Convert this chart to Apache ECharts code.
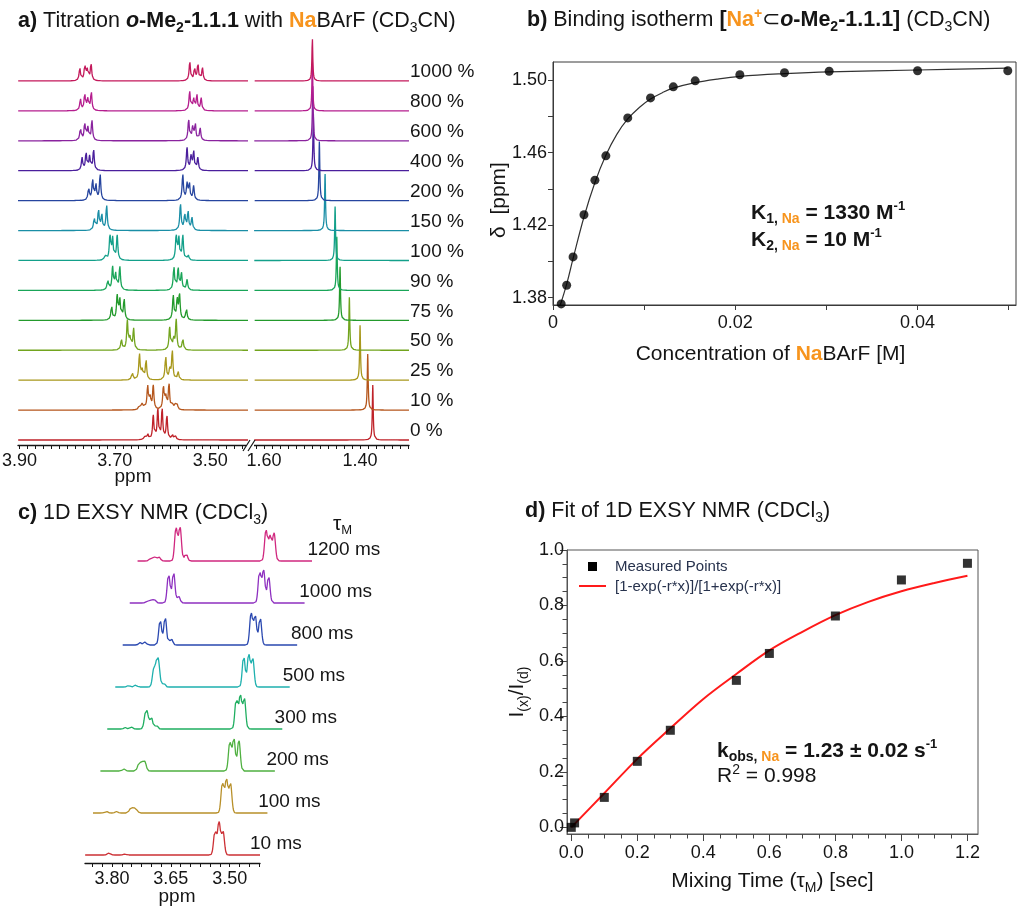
<!DOCTYPE html>
<html>
<head>
<meta charset="utf-8">
<title>NaBArF titration and 1D EXSY</title>
<script src="https://cdn.jsdelivr.net/npm/echarts@6.0.0/dist/echarts.min.js"></script>
<style>
html,body{margin:0;padding:0;background:#ffffff;}
#chart{width:1024px;height:912px;}
</style>
</head>
<body>
<div id="chart"></div>
<script>
// ================= DATA =================
// ---- Panel a: titration spectra (index 0 = 0 %, bottom trace) ----
const titrationLabels = ['0 %','10 %','25 %','50 %','75 %','90 %','100 %','150 %','200 %','400 %','600 %','800 %','1000 %'];
// OCH2 region peaks: [ppm, intensity]
const ochPeaks = [
  [[3.6381,3.3],[3.6313,6],[3.6196,24],[3.6100,30],[3.6010,31],[3.5910,24],[3.5797,6],[3.5727,3.3]],
  [[3.6485,5],[3.6437,6],[3.6381,5],[3.6313,23],[3.6264,13],[3.6196,24],[3.5983,23],[3.5934,13],[3.5866,26],[3.5797,5],[3.5742,6],[3.5694,5]],
  [[3.6636,8.3],[3.6485,26],[3.6430,10],[3.6347,20.7],[3.5935,24],[3.5850,10],[3.5797,29],[3.5674,8.3]],
  [[3.6863,10.7],[3.6739,29],[3.6685,12],[3.6608,21.7],[3.5852,22.7],[3.5770,12],[3.5715,30],[3.5577,11.7]],
  [[3.7069,14.7],[3.6952,24],[3.6897,20.7],[3.6807,22],[3.5777,24.7],[3.5694,20],[3.5646,25.7],[3.5502,12.3]],
  [[3.7150,10.7],[3.7048,23],[3.6986,17],[3.6897,24],[3.5763,24],[3.5674,22],[3.5605,17],[3.5488,10.7]],
  [[3.7206,6],[3.7103,25],[3.7048,22],[3.6952,25],[3.5715,25],[3.5660,22],[3.5577,25],[3.5467,6]],
  [[3.7433,12.7],[3.7344,21],[3.7275,16],[3.7173,25],[3.5626,26.7],[3.5536,16],[3.5467,19.3],[3.5385,12.7]],
  [[3.7550,12.7],[3.7467,21],[3.7398,16],[3.7309,26],[3.5577,26],[3.5488,16],[3.5440,17.7],[3.5350,14.3]],
  [[3.7688,12.7],[3.7604,18.3],[3.7530,14],[3.7446,21],[3.5488,22.7],[3.5405,14],[3.5350,19.3],[3.5262,12.7]],
  [[3.7722,12.7],[3.7632,17.7],[3.7566,13],[3.7481,20.3],[3.5454,21],[3.5371,13],[3.5316,17.7],[3.5213,12.7]],
  [[3.7722,11.7],[3.7632,16.7],[3.7570,12],[3.7495,19.3],[3.5433,19.3],[3.5350,12],[3.5282,16],[3.5192,12.7]],
  [[3.7735,13],[3.7630,16],[3.7580,11],[3.7500,18],[3.5430,19],[3.5330,13],[3.5260,17],[3.5165,13]]
];
// methyl singlet: [ppm, intensity]
const methylPeaks = [[1.3735,55],[1.3840,56],[1.4000,55],[1.4223,53],[1.4417,54],[1.4485,54],[1.4520,54],
                     [1.4729,57],[1.4848,59],[1.4973,57],[1.4985,55],[1.4994,50],[1.4994,43]];
const aLeftTickLabels = ['3.90','3.70','3.50'];
const aRightTickLabels = ['1.60','1.40'];

// ---- Panel b: binding isotherm ----
const naConc  = [0.0009,0.0015,0.0022,0.0034,0.0046,0.0058,0.0082,0.0107,0.0132,0.0156,0.0205,0.0254,0.0303,0.0400,0.0499];
const naShift = [1.3766,1.3869,1.4025,1.4257,1.4448,1.4582,1.4791,1.4901,1.4962,1.4995,1.5029,1.5040,1.5048,1.5051,1.5051];
const fitConc  = [0.0008,0.0015,0.0022,0.0034,0.0046,0.0058,0.0070,0.0082,0.0095,0.0107,0.0120,0.0132,0.0156,0.0180,0.0205,0.0254,0.0303,0.0400,0.0499];
const fitShift = [1.3760,1.3875,1.4015,1.4245,1.4435,1.4585,1.4700,1.4785,1.4850,1.4895,1.4930,1.4955,1.4985,1.5005,1.5020,1.5035,1.5045,1.5055,1.5065];
const bXTickLabels = ['0','0.02','0.04'];
const bYTickLabels = ['1.38','1.42','1.46','1.50'];

// ---- Panel c: 1D EXSY spectra (index 0 = 10 ms, bottom trace) ----
const exsyLabels = ['10 ms','100 ms','200 ms','300 ms','500 ms','800 ms','1000 ms','1200 ms'];
const exsyPeaks = [
  [[3.8078,2],[3.7670,1],[3.5374,24],[3.5272,33],[3.5170,24]],
  [[3.8333,1.5],[3.8078,1.5],[3.7720,4],[3.7644,5],[3.7568,3],[3.5374,30],[3.5272,34],[3.5170,30]],
  [[3.8078,2],[3.7695,7],[3.7619,8],[3.7542,9],[3.5374,29],[3.5272,33],[3.5144,31]],
  [[3.8231,1.5],[3.8078,2],[3.7720,12],[3.7670,13],[3.7568,12],[3.7440,4],[3.5400,30],[3.5297,34],[3.5195,31]],
  [[3.8333,1.5],[3.8154,2],[3.7695,17],[3.7619,20],[3.7568,19],[3.7440,4],[3.5400,31],[3.5272,33],[3.5170,29]],
  [[3.8231,2.5],[3.8103,3],[3.7720,25],[3.7593,28],[3.7440,7],[3.5400,32],[3.5297,30],[3.5170,28]],
  [[3.8231,2],[3.8129,3],[3.8052,3],[3.7695,29],[3.7568,31],[3.7440,7],[3.5374,32],[3.5272,33],[3.5144,27]],
  [[3.8333,3],[3.8231,4],[3.8129,4],[3.7695,33],[3.7593,34],[3.7440,8],[3.5400,31],[3.5297,25],[3.5195,28]]
];
const cTickLabels = ['3.80','3.65','3.50'];

// ---- Panel d: EXSY fit ----
const mixTime  = [0, 0.01, 0.1, 0.2, 0.3, 0.5, 0.6, 0.8, 1.0, 1.2];
const intRatio = [0.000, 0.016, 0.108, 0.238, 0.350, 0.530, 0.627, 0.762, 0.892, 0.952];
const fitTime  = [0, 0.1, 0.2, 0.3, 0.4, 0.5, 0.6, 0.7, 0.8, 0.9, 1.0, 1.1, 1.2];
const fitRatio = [0, 0.123, 0.247, 0.357, 0.463, 0.553, 0.638, 0.705, 0.765, 0.813, 0.851, 0.881, 0.907];
const dXTickLabels = ['0.0','0.2','0.4','0.6','0.8','1.0','1.2'];
const dYTickLabels = ['0.0','0.2','0.4','0.6','0.8','1.0'];

// ================= STYLE =================
const FONT = '"Liberation Sans", Arial, Helvetica, sans-serif';
const INK = '#151515';
const NA = '#f7941d';
const titrationColors = ['#bf2229','#b5561c','#a8981c','#72a41e','#239a2c','#19a558','#13a08a','#1a8ea6','#26459f','#4a1f9c','#8a239e','#b51e8e','#c3195b'];
const exsyColors = ['#cc3035','#b8902a','#4fb040','#1fae60','#1eb0ae','#2a48b0','#8e30c0','#d0287f'];

// ================= HELPERS =================
function lineShape(peaks, lo, hi, step, kind, w) {
  const xs = [];
  const n = Math.round((hi - lo) / step);
  for (let k = 0; k <= n; k++) xs.push(lo + k * step);
  peaks.forEach(p => xs.push(p[0]));
  xs.sort((a, b) => a - b);
  return xs.map(x => {
    let y = 0;
    for (const p of peaks) {
      const d = (x - p[0]) / w;
      y += kind === 'gauss' ? p[1] * Math.exp(-0.5 * d * d) : p[1] / (1 + d * d);
    }
    return [x, y];
  });
}
function labelFrom(list) {
  return v => { const s = list.find(t => Math.abs(Number(t) - v) < 1e-7); return s === undefined ? '' : s; };
}
function stepValues(from, to, step) {
  const out = [];
  const n = Math.floor((to - from) / step + 1e-6);
  for (let k = 0; k <= n; k++) out.push(+(from + k * step).toFixed(5));
  return out;
}

const TS = 21.5, SS = 14;
const RICH = {
  n:  {fontSize: TS, fontFamily: FONT, color: INK, lineHeight: 27},
  b:  {fontSize: TS, fontFamily: FONT, color: INK, fontWeight: 'bold', lineHeight: 27},
  bi: {fontSize: TS, fontFamily: FONT, color: INK, fontWeight: 'bold', fontStyle: 'italic', lineHeight: 27},
  ob: {fontSize: TS, fontFamily: FONT, color: NA, fontWeight: 'bold', lineHeight: 27},
  op: {fontSize: SS, fontFamily: FONT, color: NA, fontWeight: 'bold', verticalAlign: 'top', lineHeight: 16},
  bs: {fontSize: SS, fontFamily: FONT, color: INK, fontWeight: 'bold', verticalAlign: 'bottom', lineHeight: 16},
  ns: {fontSize: SS, fontFamily: FONT, color: INK, verticalAlign: 'bottom', lineHeight: 16},
  os: {fontSize: SS, fontFamily: FONT, color: NA, fontWeight: 'bold', verticalAlign: 'bottom', lineHeight: 16},
  bp: {fontSize: 13, fontFamily: FONT, color: INK, fontWeight: 'bold', verticalAlign: 'top', lineHeight: 16},
  np: {fontSize: SS, fontFamily: FONT, color: INK, verticalAlign: 'top', lineHeight: 16}
};
const RICH_ANN = {
  n:  {fontSize: 21, fontFamily: FONT, color: INK, lineHeight: 26},
  b:  {fontSize: 21, fontFamily: FONT, color: INK, fontWeight: 'bold', lineHeight: 26},
  bs: {fontSize: 14, fontFamily: FONT, color: INK, fontWeight: 'bold', verticalAlign: 'bottom', lineHeight: 15},
  os: {fontSize: 14, fontFamily: FONT, color: NA, fontWeight: 'bold', verticalAlign: 'bottom', lineHeight: 15},
  bp: {fontSize: 13, fontFamily: FONT, color: INK, fontWeight: 'bold', verticalAlign: 'top', lineHeight: 15},
  np: {fontSize: 14, fontFamily: FONT, color: INK, verticalAlign: 'top', lineHeight: 15},
  ns: {fontSize: 13, fontFamily: FONT, color: INK, verticalAlign: 'bottom', lineHeight: 15}
};

const grids = [], xAxes = [], yAxes = [], series = [], graphics = [], titles = [];

function addSpectrum(opt) {
  const g = grids.length;
  grids.push({left: opt.left, top: opt.baseline + opt.below - opt.h, width: opt.width, height: opt.h,
              containLabel: false, outerBoundsMode: 'none'});
  const xa = {
    type: 'value', gridIndex: g, inverse: true, min: opt.range[0], max: opt.range[1], show: !!opt.axis,
    axisLine: {show: true, onZero: false, lineStyle: {color: INK, width: 1.3}},
    axisTick: {show: true, length: 4, lineStyle: {color: INK, width: 1}},
    axisLabel: {show: true, margin: 7, fontSize: 18, color: INK, fontFamily: FONT, hideOverlap: false},
    splitLine: {show: false}
  };
  if (opt.axis) {
    xa.axisTick.customValues = opt.axis.ticks;
    xa.axisLabel.customValues = opt.axis.labels.map(Number);
    xa.axisLabel.formatter = labelFrom(opt.axis.labels);
  }
  xAxes.push(xa);
  yAxes.push({type: 'value', gridIndex: g, min: -opt.below, max: opt.h - opt.below, show: false, splitLine: {show: false}});
  series.push({
    type: 'line', xAxisIndex: g, yAxisIndex: g, data: opt.data, showSymbol: false, symbol: 'none',
    lineStyle: {color: opt.color, width: 1.3}, itemStyle: {color: opt.color}, silent: true, clip: true, z: 3
  });
}

// ================= PANEL a =================
const A_LEFT = [3.421, 3.903], A_RIGHT = [1.298, 1.621];
const aTicksLeft = [], aTicksRight = [];
for (let k = 0; 3.90 - k / 60 >= A_LEFT[0]; k++) aTicksLeft.push(+(3.90 - k / 60).toFixed(5));
for (let k = -1; 1.60 - k / 60 >= A_RIGHT[0]; k++) { const v = +(1.60 - k / 60).toFixed(5); if (v <= A_RIGHT[1]) aTicksRight.push(v); }

titrationLabels.forEach((lab, i) => {
  const baseline = 440 - 29.92 * i;
  const bottom = i === 0;
  addSpectrum({left: 18, width: 230, baseline, below: 5, h: 70, range: A_LEFT, color: titrationColors[i],
    axis: bottom ? {ticks: aTicksLeft, labels: aLeftTickLabels} : null,
    data: lineShape(ochPeaks[i], A_LEFT[0], A_LEFT[1], 0.0004, 'lorentz', 0.0017)});
  addSpectrum({left: 254, width: 155, baseline, below: 5, h: 70, range: A_RIGHT, color: titrationColors[i],
    axis: bottom ? {ticks: aTicksRight, labels: aRightTickLabels} : null,
    data: lineShape([methylPeaks[i]], A_RIGHT[0], A_RIGHT[1], 0.0004, 'lorentz', 0.0011)});
  graphics.push({type: 'text', x: 410, y: baseline - 9, silent: true,
    style: {text: lab, fill: INK, fontSize: 19, fontFamily: FONT, align: 'left', verticalAlign: 'middle', textAlign: 'left', textVerticalAlign: 'middle'}});
});
// axis break marks
graphics.push({type: 'rect', shape: {x: 246, y: 443, width: 8, height: 5}, style: {fill: '#fff'}, silent: true, z: 10});
graphics.push({type: 'line', shape: {x1: 243, y1: 451, x2: 250, y2: 440}, style: {stroke: INK, lineWidth: 1.2}, silent: true, z: 11});
graphics.push({type: 'line', shape: {x1: 248, y1: 451, x2: 255, y2: 440}, style: {stroke: INK, lineWidth: 1.2}, silent: true, z: 11});
graphics.push({type: 'text', x: 133, y: 477, silent: true,
  style: {text: 'ppm', fill: INK, fontSize: 19, fontFamily: FONT, align: 'center', verticalAlign: 'middle', textAlign: 'center', textVerticalAlign: 'middle'}});

// ================= PANEL c =================
const C_RANGE = [3.4226, 3.869];
const cTicks = stepValues(3.425, 3.85, 0.025);
exsyLabels.forEach((lab, i) => {
  const baseline = 855 - 42 * i;
  addSpectrum({left: 85 + 7.43 * i, width: 175, baseline, below: 8, h: 50, range: C_RANGE, color: exsyColors[i],
    axis: i === 0 ? {ticks: cTicks, labels: cTickLabels} : null,
    data: lineShape(exsyPeaks[i], C_RANGE[0], C_RANGE[1], 0.0005, 'gauss', 0.0036)});
  graphics.push({type: 'text', x: 250 + 8.2 * i, y: baseline - 11, silent: true,
    style: {text: lab, fill: INK, fontSize: 19, fontFamily: FONT, align: 'left', verticalAlign: 'middle', textAlign: 'left', textVerticalAlign: 'middle'}});
});
graphics.push({type: 'text', x: 177, y: 897, silent: true,
  style: {text: 'ppm', fill: INK, fontSize: 19, fontFamily: FONT, align: 'center', verticalAlign: 'middle', textAlign: 'center', textVerticalAlign: 'middle'}});

// ================= PANEL b =================
const gB = grids.length;
grids.push({left: 553, top: 62, width: 463, height: 243, show: true, borderColor: '#3a3a3a', borderWidth: 1,
            backgroundColor: 'transparent', containLabel: false, outerBoundsMode: 'none'});
xAxes.push({
  type: 'value', gridIndex: gB, min: 0, max: 0.0508,
  axisLine: {show: true, onZero: false, lineStyle: {color: '#3a3a3a'}},
  axisTick: {show: true, length: 5, customValues: stepValues(0, 0.05, 0.01), lineStyle: {color: '#3a3a3a'}},
  axisLabel: {customValues: bXTickLabels.map(Number), formatter: labelFrom(bXTickLabels), fontSize: 18, margin: 9, color: INK, fontFamily: FONT},
  splitLine: {show: false},
  name: '{n|Concentration of }{ob|Na}{n|BArF [M]}', nameLocation: 'middle', nameGap: 36,
  nameTextStyle: {rich: {n: Object.assign({}, RICH.n, {fontSize: 21}), ob: Object.assign({}, RICH.ob, {fontSize: 21})}, padding: [0, 28, 0, 0]}
});
yAxes.push({
  type: 'value', gridIndex: gB, min: 1.376, max: 1.5099,
  axisLine: {show: true, onZero: false, lineStyle: {color: '#3a3a3a'}},
  axisTick: {show: true, length: 5, customValues: stepValues(1.38, 1.50, 0.02), lineStyle: {color: '#3a3a3a'}},
  axisLabel: {customValues: bYTickLabels.map(Number), formatter: labelFrom(bYTickLabels), fontSize: 18, margin: 6, color: INK, fontFamily: FONT},
  splitLine: {show: false}
});
series.push({type: 'line', name: 'fit', xAxisIndex: gB, yAxisIndex: gB, data: fitConc.map((x, k) => [x, fitShift[k]]),
  smooth: 0.4, showSymbol: false, symbol: 'none', lineStyle: {color: '#333', width: 1.2}, silent: true, z: 3});
series.push({type: 'scatter', name: 'δ obs', xAxisIndex: gB, yAxisIndex: gB, data: naConc.map((x, k) => [x, naShift[k]]),
  symbol: 'circle', symbolSize: 9, itemStyle: {color: '#000'}, silent: true, z: 4});
graphics.push({type: 'text', x: 499, y: 200, rotation: Math.PI / 2, silent: true,
  style: {text: 'δ  [ppm]', fill: INK, fontSize: 21, fontFamily: FONT, align: 'center', verticalAlign: 'middle', textAlign: 'center', textVerticalAlign: 'middle'}});

// ================= PANEL d =================
const gD = grids.length;
grids.push({left: 567, top: 550, width: 411, height: 284, show: true, borderColor: '#555', borderWidth: 1,
            backgroundColor: 'transparent', containLabel: false, outerBoundsMode: 'none'});
const dX = xAxes.length;
xAxes.push({
  type: 'value', gridIndex: gD, min: -0.013, max: 1.232, position: 'bottom',
  axisLine: {show: true, onZero: false, lineStyle: {color: '#555'}},
  axisTick: {show: true, length: 7, customValues: dXTickLabels.map(Number), lineStyle: {color: '#444'}},
  axisLabel: {customValues: dXTickLabels.map(Number), formatter: labelFrom(dXTickLabels), fontSize: 18, margin: 10, color: INK, fontFamily: FONT},
  splitLine: {show: false},
  name: '{n|Mixing Time (τ}{ns|M}{n|) [sec]}', nameLocation: 'middle', nameGap: 34,
  nameTextStyle: {rich: {n: Object.assign({}, RICH.n, {fontSize: 21}), ns: Object.assign({}, RICH.ns, {fontSize: 14})}}
});
xAxes.push({
  type: 'value', gridIndex: gD, min: -0.013, max: 1.232, position: 'bottom',
  axisLine: {show: false, onZero: false}, axisLabel: {show: false}, splitLine: {show: false},
  axisTick: {show: true, length: 4.5, customValues: stepValues(0, 1.2, 0.05), lineStyle: {color: '#444'}}
});
const dY = yAxes.length;
yAxes.push({
  type: 'value', gridIndex: gD, min: -0.024, max: 1.0, position: 'left',
  axisLine: {show: true, onZero: false, lineStyle: {color: '#555'}},
  axisTick: {show: true, length: 7, customValues: dYTickLabels.map(Number), lineStyle: {color: '#444'}},
  axisLabel: {customValues: dYTickLabels.map(Number), formatter: labelFrom(dYTickLabels), fontSize: 18, margin: 3, color: INK, fontFamily: FONT},
  splitLine: {show: false},
  name: '{n|I}{ns|(x)}{n|/I}{ns|(d)}', nameLocation: 'middle', nameRotate: 90, nameGap: 36,
  nameTextStyle: {rich: {n: Object.assign({}, RICH.n, {fontSize: 21}), ns: Object.assign({}, RICH.ns, {fontSize: 14})}}
});
yAxes.push({
  type: 'value', gridIndex: gD, min: -0.024, max: 1.0, position: 'left',
  axisLine: {show: false, onZero: false}, axisLabel: {show: false}, splitLine: {show: false},
  axisTick: {show: true, length: 4.5, customValues: stepValues(0, 1.0, 0.05), lineStyle: {color: '#444'}}
});
series.push({type: 'line', name: '[1-exp(-r*x)]/[1+exp(-r*x)]', xAxisIndex: dX, yAxisIndex: dY,
  data: fitTime.map((x, k) => [x, fitRatio[k]]), smooth: 0.35, showSymbol: false, symbol: 'none',
  lineStyle: {color: '#ff1a1a', width: 2}, silent: true, z: 3});
series.push({type: 'scatter', name: 'Measured Points', xAxisIndex: dX, yAxisIndex: dY,
  data: mixTime.map((x, k) => [x, intRatio[k]]), symbol: 'rect', symbolSize: 9, itemStyle: {color: '#000'}, silent: true, z: 4});
// legend drawn in place
graphics.push({type: 'rect', shape: {x: 588, y: 562, width: 9, height: 9}, style: {fill: '#000'}, silent: true});
graphics.push({type: 'line', shape: {x1: 579, y1: 586, x2: 606, y2: 586}, style: {stroke: '#ff1a1a', lineWidth: 2}, silent: true});
graphics.push({type: 'text', x: 615, y: 567, silent: true,
  style: {text: 'Measured Points', fill: '#27324d', fontSize: 15, fontFamily: FONT, align: 'left', verticalAlign: 'middle', textAlign: 'left', textVerticalAlign: 'middle'}});
graphics.push({type: 'text', x: 615, y: 587, silent: true,
  style: {text: '[1-exp(-r*x)]/[1+exp(-r*x)]', fill: '#27324d', fontSize: 15, fontFamily: FONT, align: 'left', verticalAlign: 'middle', textAlign: 'left', textVerticalAlign: 'middle'}});

// ================= TEXT BLOCKS =================
function richTitle(text, left, top, rich) {
  return {text, left, top, padding: 0, textStyle: {rich: rich || RICH, fontSize: TS, fontWeight: 'normal', color: INK, fontFamily: FONT}};
}
titles.push(richTitle('{b|a)}{n| Titration }{bi|o}{b|-Me}{bs|2}{b|-1.1.1}{n| with }{ob|Na}{n|BArF (CD}{ns|3}{n|CN)}', 18, 8));
titles.push(richTitle('{b|b)}{n| Binding isotherm }{b|[}{ob|Na}{op|+}{n|⊂}{bi|o}{b|-Me}{bs|2}{b|-1.1.1]}{n| (CD}{ns|3}{n|CN)}', 527, 7));
titles.push(richTitle('{b|c)}{n| 1D EXSY NMR (CDCl}{ns|3}{n|)}', 18, 500));
titles.push(richTitle('{b|d)}{n| Fit of 1D EXSY NMR (CDCl}{ns|3}{n|)}', 525, 498));
titles.push(richTitle('{b|K}{bs|1, }{os|Na}{b| = 1330 M}{bp|-1}', 751, 200, RICH_ANN));
titles.push(richTitle('{b|K}{bs|2, }{os|Na}{b| = 10 M}{bp|-1}', 751, 227, RICH_ANN));
titles.push(richTitle('{b|k}{bs|obs, }{os|Na}{b| = 1.23 ± 0.02 s}{bp|-1}', 717, 738, RICH_ANN));
titles.push(richTitle('{n|R}{np|2}{n| = 0.998}', 717, 763, RICH_ANN));
titles.push(richTitle('{n|τ}{ns|M}', 333, 511, RICH_ANN));

const option = {
  animation: false,
  backgroundColor: '#ffffff',
  textStyle: {fontFamily: FONT},
  title: titles,
  grid: grids,
  xAxis: xAxes,
  yAxis: yAxes,
  series: series,
  graphic: {elements: graphics}
};
const chart = echarts.init(document.getElementById('chart'), null, {renderer: 'canvas', width: 1024, height: 912});
chart.setOption(option);
</script>
</body>
</html>
